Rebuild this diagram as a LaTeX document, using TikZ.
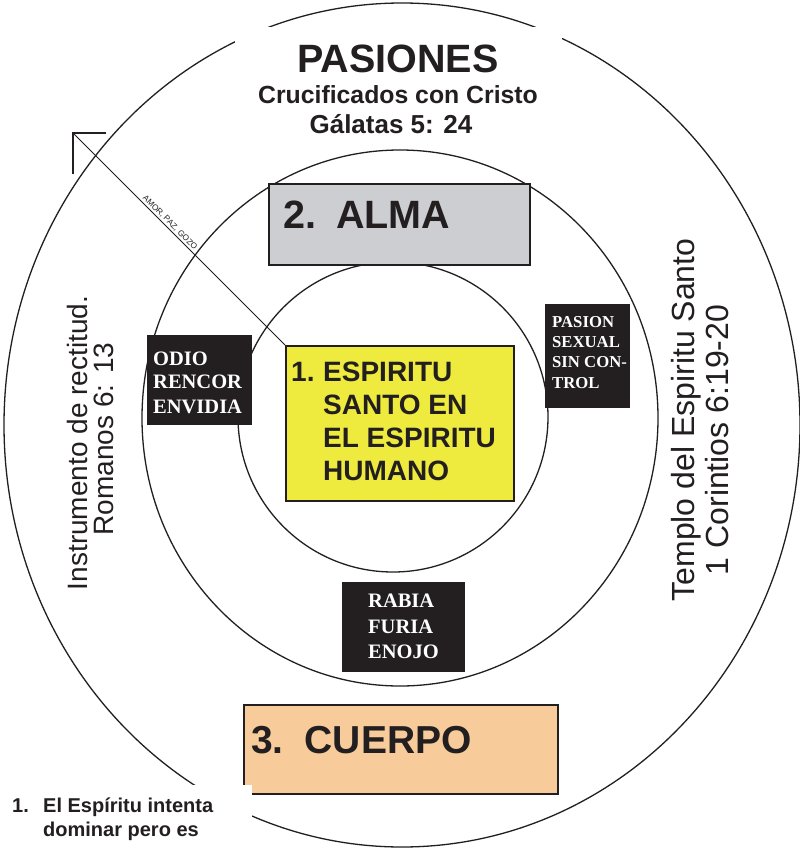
\documentclass[tikz,border=0pt]{standalone}
\usepackage{fontspec}
\setmainfont{Liberation Sans}
\newfontfamily\timesfont{Liberation Serif}
\definecolor{ink}{RGB}{35,31,32}
\definecolor{almagray}{RGB}{205,206,209}
\definecolor{spiritY}{RGB}{238,235,62}
\definecolor{peach}{RGB}{248,203,155}
\newcommand{\fsz}[1]{\fontsize{#1}{#1}\selectfont}
\begin{document}
\begin{tikzpicture}[x=1pt,y=-1pt,
  ring/.style={draw=ink,line width=1.3pt},
  panel/.style={draw=ink,line width=1.6pt,inner sep=0pt,anchor=north west},
  darkpanel/.style={fill=ink,draw=none,inner sep=0pt,anchor=north west},
  lbl/.style={inner sep=0pt,anchor=base west,text=ink},
  wlbl/.style={inner sep=0pt,anchor=base west,text=white,font=\timesfont\bfseries\fsz{20.5}},
  wsmall/.style={inner sep=0pt,anchor=base west,text=white,font=\timesfont\bfseries\fsz{16.7}},
  ctitle/.style={inner sep=0pt,anchor=base,text=ink},
  side/.style={inner sep=0pt,rotate=90,text=ink}
]
\useasboundingbox (0,0) rectangle (800,849);
\fill[white] (0,0) rectangle (800,849);

% rings
\draw[ring] (402,425) ellipse [x radius=398pt, y radius=422pt];
\draw[ring] (400,418) ellipse [x radius=258pt, y radius=268pt];
\draw[ring] (393,417) circle [radius=155pt];

% white box behind the title
\fill[white] (235,27) rectangle (562,140);
\node[ctitle,font=\bfseries\fsz{39.5}] (pasiones) at (398,72) {PASIONES};
\node[ctitle,font=\bfseries\fsz{24.8}] (cruc) at (398,103) {Crucificados con Cristo};
\node[ctitle,font=\bfseries\fsz{26}] (gal) at (391,133) {Gálatas 5: 24};

% 2. ALMA
\node[panel,fill=almagray,minimum width=261pt,minimum height=81pt] (alma) at (268,183) {};
\node[lbl,font=\bfseries\fsz{39.5}] (almat) at (283,228) {2.\hspace{20pt}ALMA};

% 1. ESPIRITU box
\node[panel,fill=spiritY,minimum width=228pt,minimum height=155pt] (spirit) at (285,345) {};
\node[lbl,font=\bfseries\fsz{28}] (sp1n) at (291,381) {1.};
\node[lbl,font=\bfseries\fsz{28}] (sp1) at (323,381) {ESPIRITU};
\node[lbl,font=\bfseries\fsz{28}] (sp2) at (323,414) {SANTO EN};
\node[lbl,font=\bfseries\fsz{28}] (sp3) at (323,447) {EL ESPIRITU};
\node[lbl,font=\bfseries\fsz{28}] (sp4) at (323,480) {HUMANO};

% dark boxes
\node[darkpanel,minimum width=105pt,minimum height=90pt] (odio) at (147,335) {};
\node[wlbl] (o1) at (153,365) {ODIO};
\node[wlbl] (o2) at (153,388) {RENCOR};
\node[wlbl] (o3) at (153,413) {ENVIDIA};

\node[darkpanel,minimum width=85pt,minimum height=104pt] (pasion) at (545,304) {};
\node[wsmall] (p1) at (552,327) {PASION};
\node[wsmall] (p2) at (552,347) {SEXUAL};
\node[wsmall] (p3) at (552,367) {SIN CON-};
\node[wsmall] (p4) at (552,388) {TROL};

\node[darkpanel,minimum width=123pt,minimum height=90pt] (rabia) at (342,582) {};
\node[wlbl] (r1) at (368,607) {RABIA};
\node[wlbl] (r2) at (368,633) {FURIA};
\node[wlbl] (r3) at (368,658) {ENOJO};

% 3. CUERPO
\node[panel,fill=peach,minimum width=314pt,minimum height=89pt] (cuerpo) at (243,704) {};
\node[lbl,font=\bfseries\fsz{39}] (cuerpot) at (251,753) {3.\hspace{21pt}CUERPO};

% side texts
\node[side,font=\fsz{28}] (inst) at (77,443) {Instrumento de rectitud.};
\node[side,font=\fsz{28}] (rom) at (104,439) {Romanos 6: 13};
\node[side,font=\fsz{32}] (templo) at (686,420) {Templo del Espiritu Santo};
\node[side,font=\fsz{32}] (cor) at (717.5,440) {1 Corintios 6:19-20};

% diagonal line with open corner mark
\coordinate (tip) at (73,133);
\draw[ink,line width=0.8pt] (tip) -- (spirit.north west)
  node[pos=0.44,sloped,above,inner sep=1.5pt,font=\fsz{8.2},text=ink] (amor) {AMOR, PAZ, GOZO};
\draw[ink,line width=1.5pt] ([xshift=33pt]tip) -- (tip) -- ([yshift=-41pt]tip);

% bottom-left note
\fill[white] (0,785) rectangle (252,849);
\node[lbl,font=\bfseries\fsz{20}] (n1) at (12,812) {1.};
\node[lbl,font=\bfseries\fsz{20}] (n2) at (43,812) {El Espíritu intenta};
\node[lbl,font=\bfseries\fsz{20}] (n3) at (43,836) {dominar pero es};
\end{tikzpicture}
\end{document}
